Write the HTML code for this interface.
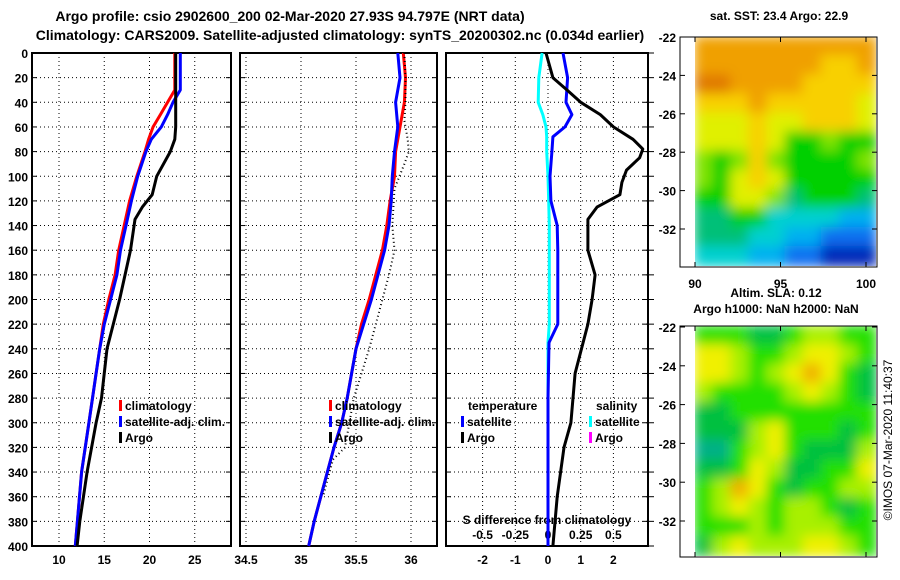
<!DOCTYPE html>
<html><head><meta charset="utf-8">
<style>
html,body{margin:0;padding:0;background:#fff;}
svg{display:block;font-family:"Liberation Sans",sans-serif;font-weight:bold;}
</style></head>
<body>
<svg id="c" width="900" height="580" viewBox="0 0 900 580" xmlns="http://www.w3.org/2000/svg">
<defs>
<filter id="blur1" filterUnits="userSpaceOnUse" x="680" y="20" width="210" height="260"><feGaussianBlur stdDeviation="6"/></filter>
<filter id="blur2" filterUnits="userSpaceOnUse" x="680" y="310" width="210" height="260"><feGaussianBlur stdDeviation="6"/></filter>
<clipPath id="clipSST"><rect x="695" y="37" width="181" height="229"/></clipPath>
<clipPath id="clipSLA"><rect x="695" y="326" width="181" height="230"/></clipPath>
</defs>
<text x="290" y="21" font-size="14" text-anchor="middle">Argo profile: csio 2902600_200 02-Mar-2020 27.93S 94.797E (NRT data)</text>
<text x="340" y="40" font-size="14" text-anchor="middle">Climatology: CARS2009. Satellite-adjusted climatology: synTS_20200302.nc (0.034d earlier)</text>
<g id="plots"></g>
</svg>
<script>
// ---------- data ----------
const depthsT = [0,30,40,50,60,70,80,100,120,140,160,180,200,220,240,260,280,300,340,400];
const tempClim = [22.8,22.8,22.0,21.2,20.4,19.9,19.5,18.6,17.8,17.2,16.6,16.2,15.5,14.9,14.5,14.1,13.7,13.3,12.5,11.8];
const tempSat  = [23.4,23.4,22.6,22.0,21.3,20.2,19.6,18.7,18.0,17.4,16.8,16.4,15.7,15.0,14.5,14.1,13.7,13.3,12.5,11.8];
const depthsArgoT = [0,60,70,80,100,115,125,135,160,200,220,240,280,300,340,380,400];
const tempArgo = [22.9,22.9,22.8,22.3,20.8,20.3,19.2,18.4,17.9,16.7,16.0,15.3,14.7,14.1,13.1,12.3,12.0];

const depthsS = [0,20,40,60,80,100,120,140,160,180,200,220,240,280,300,320,340,380,400];
const salClim = [35.93,35.95,35.94,35.90,35.86,35.85,35.81,35.78,35.74,35.68,35.62,35.55,35.50,35.42,35.37,35.30,35.24,35.12,35.07];
const salSat  = [35.88,35.90,35.86,35.88,35.85,35.83,35.82,35.80,35.76,35.70,35.64,35.57,35.50,35.42,35.37,35.30,35.24,35.12,35.07];
const depthsArgoS = [0,20,40,55,70,80,90,110,140,160,180,200,240,280,320,330,360];
const salArgo = [35.94,35.95,35.95,35.94,35.97,35.98,35.94,35.85,35.83,35.85,35.80,35.74,35.62,35.48,35.40,35.29,35.20];

const depthsD = [0,20,30,40,50,60,70,78,85,95,105,115,125,135,160,180,200,220,260,300,320,360,400];
const dTArgo = [-0.06,0.15,0.58,1.0,1.6,2.0,2.6,2.9,2.8,2.4,2.26,2.2,1.5,1.22,1.22,1.44,1.35,1.22,0.83,0.7,0.49,0.28,0.15];
const depthsDS = [0,20,40,50,60,68,80,100,120,140,160,220,235,280,400];
const dTSat = [0.46,0.6,0.55,0.73,0.52,0.15,0.12,0.06,0.09,0.28,0.3,0.3,0.03,0.0,0.0];
const dSSat = [-0.045,-0.07,-0.075,-0.04,-0.015,-0.01,-0.01,0,0.005,0.01,0.01,0.01,0.0,0.0,0.0];

const depthTicks = [0,20,40,60,80,100,120,140,160,180,200,220,240,260,280,300,320,340,360,380,400];
const tTicks = [10,15,20,25];
const sTicks = [34.5,35,35.5,36];
const dTicks = [-2,-1,0,1,2];
const dsTicks = [-0.5,-0.25,0,0.25,0.5];
const latTicks = [-22,-24,-26,-28,-30,-32];
const lonTicks = [90,95,100];

const sstGrid = [
[9,9,9,9,9,9,9,9,9,9],
[9,9,9,9,9,9,9,8,8,9],
[10,10,9,9,9,9,8,8,8,8],
[8,8,8,9,8,8,8,8,8,7],
[7,7,7,8,7,7,8,8,8,7],
[7,7,7,8,7,5,5,6,5,5],
[6,5,6,8,6,5,5,5,5,6],
[6,5,7,8,7,5,5,5,5,5],
[5,5,7,7,6,4,5,5,5,4],
[4,4,5,5,3,3,3,3,2,2],
[4,4,4,3,3,2,2,1,1,1],
[3,3,3,2,2,1,1,0,0,0]];
const slaGrid = [
[2,2,2,1,1,2,3,3,2,2],
[4,4,3,2,2,3,4,4,3,2],
[4,4,3,2,3,4,5,4,2,1],
[3,2,2,2,2,3,4,3,2,1],
[1,1,2,2,2,2,2,2,2,2],
[1,1,1,3,4,2,2,2,1,2],
[0,0,2,3,4,2,1,1,1,3],
[1,1,2,4,3,1,1,2,2,4],
[2,3,5,4,2,1,2,2,3,3],
[2,3,4,3,2,3,3,2,1,2],
[2,2,2,3,2,3,3,3,2,2],
[1,3,4,3,3,3,4,4,3,2]];
const sstColors = ['#0028b8','#0a70f0','#00b0f0','#00d0d0','#00c078','#00d000','#80e400','#e0f000','#f8d000','#f0a000','#e07800'];
const slaColors = ['#00b088','#00c040','#20e000','#a8f000','#f0f000','#f0b000'];

// ---------- helpers ----------
const NS='http://www.w3.org/2000/svg';
const root=document.getElementById('plots');
function mk(tag,attrs,parent){const e=document.createElementNS(NS,tag);for(const k in attrs)e.setAttribute(k,attrs[k]);(parent||root).appendChild(e);return e;}
const yD = d => 53 + d*1.2325;
const xT = t => 59 + (t-10)*9.05;
const xS = s => 301 + (s-35)*110;
const xD = d => 548 + d*32.7;
const xDS = s => 548 + s*130.8;
const yLat = l => 37 + (-22 - l)*19.2;
const yLat2 = l => 327 + (-22 - l)*19.4;
const xLon = l => 695 + (l-90)*17.1;

function panel(x0,x1,name,gridXs){
  const g=mk('g',{});
  
  
  depthTicks.forEach(d=>{
    const l=mk('line',{x1:x0,x2:x1,y1:yD(d),y2:yD(d),stroke:'#000','stroke-width':1,'stroke-dasharray':'1,3'},g);
    
    
    mk('line',{x1:x0,x2:x0+5,y1:yD(d),y2:yD(d),stroke:'#000','stroke-width':1},g);
    mk('line',{x1:x1-5,x2:x1,y1:yD(d),y2:yD(d),stroke:'#000','stroke-width':1},g);
  });
  gridXs.forEach(x=>{
    const l=mk('line',{x1:x,x2:x,y1:53,y2:546,stroke:'#000','stroke-width':1,'stroke-dasharray':'1,3'},g);
    
    
  });
  const r=mk('rect',{x:x0,y:53,width:x1-x0,height:493,fill:'none',stroke:'#000','stroke-width':2},g);
  
  
  return g;
}
function line(xs,ds,fx,color,w,name,dash){
  const pts=xs.map((v,i)=>fx(v).toFixed(1)+','+yD(ds[i]).toFixed(1)).join(' ');
  const p=mk('polyline',{points:pts,fill:'none',stroke:color,'stroke-width':w,'stroke-linejoin':'round'});
  if(dash)p.setAttribute('stroke-dasharray',dash);
  
  
}
function txt(x,y,s,name,anchor,size,fill){
  const t=mk('text',{x:x,y:y,'font-size':size||12,'text-anchor':anchor||'start',fill:fill||'#000'});
  t.textContent=s;
  
  
  return t;
}
function legend(x,y,color,label,name){
  const r=mk('rect',{x:x,y:y-10,width:3,height:11,fill:color});
  
  
  txt(x+6,y,label,name,'start',12);
}

// ---------- panels ----------
panel(32,231,'temperature-panel',tTicks.map(xT));
panel(240,437,'salinity-panel',sTicks.map(xS));
panel(446,648,'difference-panel',dTicks.map(xD));

depthTicks.forEach(d=>txt(28,yD(d)+5,String(d),'depth-tick-label','end',12));
tTicks.forEach(t=>txt(xT(t),564,String(t),'temp-tick-label','middle',12));
sTicks.forEach(s=>txt(xS(s),564,String(s),'sal-tick-label','middle',12));
dTicks.forEach(d=>txt(xD(d),564,String(d),'diff-tick-label','middle',12));
dsTicks.forEach(s=>txt(xDS(s),539,String(s),'sdiff-tick-label','middle',12));
txt(547,524,'S difference from climatology','sdiff-axis-title','middle',12);

line(tempClim,depthsT,xT,'#f00',3,'temp-climatology-line');
line(tempSat,depthsT,xT,'#00f',3,'temp-satellite-line');
line(tempArgo,depthsArgoT,xT,'#000',3,'temp-argo-line');
line(salClim,depthsS,xS,'#f00',3,'sal-climatology-line');
line(salSat,depthsS,xS,'#00f',3,'sal-satellite-line');
line(salArgo,depthsArgoS,xS,'#000',2,'sal-argo-line','1,3');
line(dSSat,depthsDS,xDS,'#0ff',3,'sdiff-satellite-line');
line(dTSat,depthsDS,xD,'#00f',3,'tdiff-satellite-line');
line(dTArgo,depthsD,xD,'#000',3,'tdiff-argo-line');

legend(119,410,'#f00','climatology','legend-climatology');
legend(119,426,'#00f','satellite-adj. clim.','legend-satellite-adj');
legend(119,442,'#000','Argo','legend-argo');
legend(329,410,'#f00','climatology','legend2-climatology');
legend(329,426,'#00f','satellite-adj. clim.','legend2-satellite-adj');
legend(329,442,'#000','Argo','legend2-argo');
txt(468,410,'temperature','legend-temperature-title','start',12);
legend(461,426,'#00f','satellite','legend-t-satellite');
legend(461,442,'#000','Argo','legend-t-argo');
txt(596,410,'salinity','legend-salinity-title','start',12);
legend(589,426,'#0ff','satellite','legend-s-satellite');
legend(589,442,'#f0f','Argo','legend-s-argo');

// ---------- maps ----------
function map(grid,colors,x0,y0,w,h,clip,filt,name){
  const g=mk('g',{'clip-path':'url(#'+clip+')'});
  
  
  const inner=mk('g',{filter:'url(#'+filt+')'},g);
  const rows=grid.length, cols=grid[0].length, cw=w/cols, ch=h/rows;
  grid.forEach((row,i)=>row.forEach((v,j)=>{
    const r=mk('rect',{x:(x0+j*cw-1).toFixed(1),y:(y0+i*ch-1).toFixed(1),width:(cw+2).toFixed(1),height:(ch+2).toFixed(1),fill:colors[v]},inner);
    
    
  }));
}
map(sstGrid,sstColors,695,37,181,229,'clipSST','blur1','sst-map');
map(slaGrid,slaColors,695,326,181,230,'clipSLA','blur2','sla-map');

function mapFrame(y0,y1,fy,name){
  const r=mk('rect',{x:680,y:y0,width:197,height:y1-y0,fill:'none',stroke:'#000','stroke-width':1});
  
  
  latTicks.forEach(l=>{
    mk('line',{x1:680,x2:685,y1:fy(l),y2:fy(l),stroke:'#000'});
    mk('line',{x1:872,x2:877,y1:fy(l),y2:fy(l),stroke:'#000'});
    txt(676,fy(l)+5,String(l),name+'-lat-label','end',12);
  });
  lonTicks.forEach(l=>{
    mk('line',{x1:xLon(l),x2:xLon(l),y1:y0,y2:y0+5,stroke:'#000'});
    mk('line',{x1:xLon(l),x2:xLon(l),y1:y1-5,y2:y1,stroke:'#000'});
  });
}
mapFrame(37,267,yLat,'sst');
mapFrame(326,557,yLat2,'sla');
lonTicks.forEach(l=>txt(xLon(l),288,String(l),'sst-lon-label','middle',12));
txt(779,20,'sat. SST: 23.4 Argo: 22.9','sst-map-title','middle',12);
txt(776,297,'Altim. SLA: 0.12','sla-map-title','middle',12);
txt(776,313,'Argo h1000: NaN h2000: NaN','argo-height-label','middle',12);
const cr=txt(0,0,'©IMOS 07-Mar-2020 11:40:37','copyright-label','middle',12);
cr.setAttribute('font-weight','normal');
cr.setAttribute('transform','translate(892,440) rotate(-90)');
depthTicks.forEach(d=>mk('line',{x1:648,x2:654,y1:yD(d),y2:yD(d),stroke:'#000'}));
</script>
</body></html>
